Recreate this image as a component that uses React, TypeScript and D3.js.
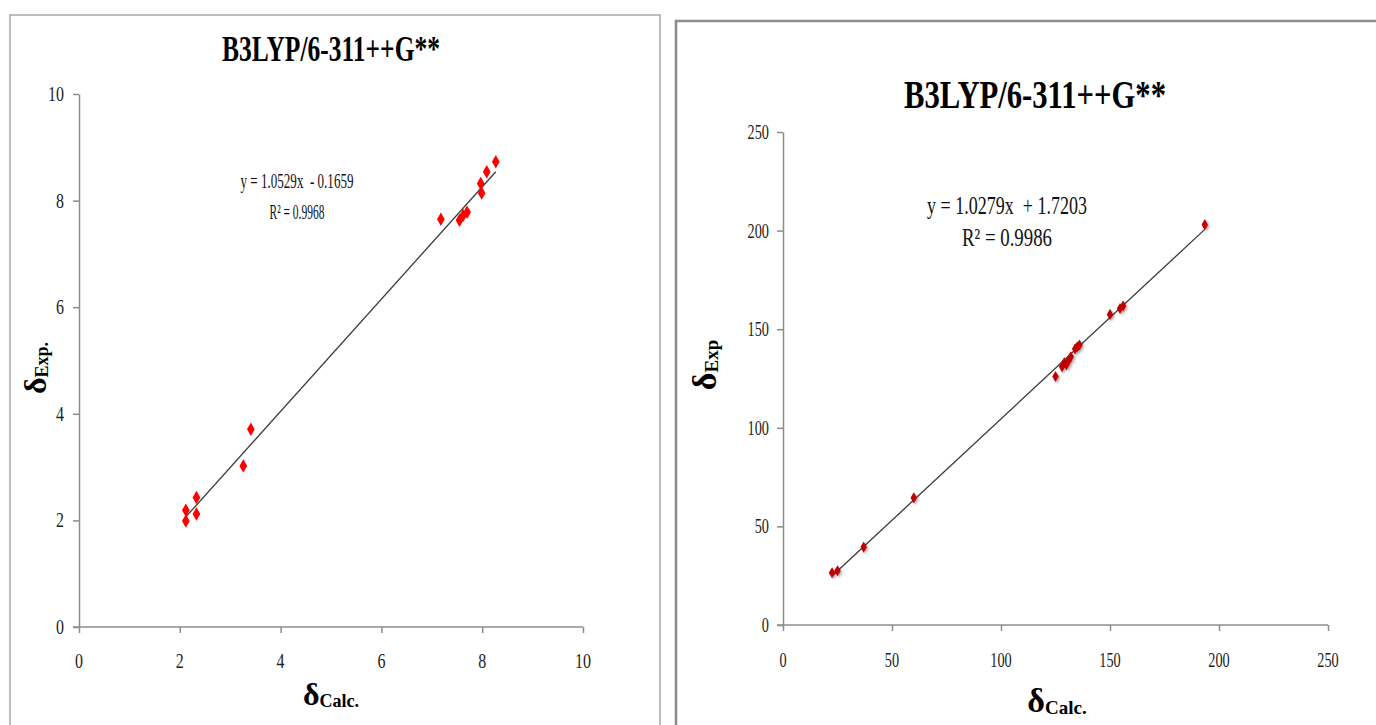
import React, { useEffect, useRef } from 'react';
import * as d3 from 'd3';

// left panel: 1H shifts
const calcH = [2.12, 2.12, 2.33, 2.33, 3.26, 3.41, 7.18, 7.55, 7.62, 7.7, 7.97, 7.99, 8.09, 8.27];
const expH = [2.19, 1.99, 2.43, 2.12, 3.02, 3.71, 7.65, 7.63, 7.72, 7.78, 8.32, 8.14, 8.54, 8.73];
const ticksH = [0, 2, 4, 6, 8, 10];
const fitH = { slope: 1.0529, intercept: -0.1659, eq: 'y = 1.0529x  - 0.1659', r2: 'R² = 0.9968' };

// right panel: 13C shifts
const calcC = [22.5, 25, 37, 60, 125, 128, 129, 130, 131, 132, 134, 135, 136, 150, 154.6, 156, 193.5];
const expC = [26.5, 27.5, 39.5, 64.5, 126, 131, 133, 132, 134, 136, 140, 141, 142, 157.5, 160.5, 161.8, 203];
const ticksC = [0, 50, 100, 150, 200, 250];
const fitC = { slope: 1.0279, intercept: 1.7203, eq: 'y = 1.0279x  + 1.7203', r2: 'R² = 0.9986' };

const title = 'B3LYP/6-311++G**';
const serif = '"Liberation Serif", "DejaVu Serif", serif';

const App = () => {
  const svgRef = useRef<SVGSVGElement>(null);

  useEffect(() => {
    const svg = d3.select(svgRef.current);
    svg.selectAll('*').remove();

    const defs = svg.append('defs');
    const f = defs.append('filter').attr('id', 'shadow').attr('x', '-50%').attr('y', '-50%').attr('width', '200%').attr('height', '200%');
    f.append('feDropShadow').attr('dx', 1.5).attr('dy', 1.5).attr('stdDeviation', 1.2).attr('flood-color', '#000').attr('flood-opacity', 0.35);

    // panel frames
    svg.append('rect')
      .attr('x', 10).attr('y', 15).attr('width', 650).attr('height', 730)
      .attr('fill', 'none').attr('stroke', '#a6a6a6').attr('stroke-width', 1.5);
    svg.append('path')
      .attr('d', 'M676,745V21H1376')
      .attr('fill', 'none').attr('stroke', '#8c8c8c').attr('stroke-width', 2.5);

    const drawPanel = (opt: any) => {
      const { xs, ys, ticks, fit, calc, exp } = opt;
      const g = svg.append('g');
      const [x0, x1] = xs.range();
      const [y0] = ys.range();

      // axes
      g.append('g')
        .attr('transform', `translate(0,${y0})`)
        .call(d3.axisBottom(xs).tickValues(ticks).tickSize(6).tickSizeOuter(0).tickFormat(() => ''))
        .call(a => a.select('.domain').attr('d', `M${x0 - 6},0H${x1}`))
        .call(a => a.selectAll('path,line').attr('stroke', '#8c8c8c').attr('stroke-width', 1.5));
      g.append('g')
        .attr('transform', `translate(${x0},0)`)
        .call(d3.axisLeft(ys).tickValues(ticks).tickSize(6).tickSizeOuter(0).tickFormat(() => ''))
        .call(a => a.selectAll('path,line').attr('stroke', '#8c8c8c').attr('stroke-width', 1.5));

      // tick labels, narrow like the original
      const fs = opt.tickFont;
      const tl = (d: number) => String(d).length * fs * 0.5 * opt.squeeze;
      g.selectAll('.xl').data(ticks).join('text')
        .attr('x', (d: number) => xs(d) - tl(d) / 2).attr('y', y0 + opt.xLabelDy)
        .attr('font-family', serif).attr('font-size', fs)
        .attr('textLength', tl).attr('lengthAdjust', 'spacingAndGlyphs')
        .attr('fill', '#222').text((d: number) => d);
      g.selectAll('.yl').data(ticks).join('text')
        .attr('x', (d: number) => x0 - opt.yLabelDx - tl(d)).attr('y', (d: number) => ys(d) + fs * 0.33)
        .attr('font-family', serif).attr('font-size', fs)
        .attr('textLength', tl).attr('lengthAdjust', 'spacingAndGlyphs')
        .attr('fill', '#222').text((d: number) => d);

      // title
      g.append('text')
        .attr('x', opt.titleX - opt.titleLen / 2).attr('y', opt.titleY)
        .attr('font-family', serif).attr('font-weight', 'bold')
        .attr('font-size', opt.titleSize).attr('textLength', opt.titleLen).attr('lengthAdjust', 'spacingAndGlyphs')
        .text(title);

      // axis titles
      const xt = g.append('text')
        .attr('x', opt.xTitle[0]).attr('y', opt.xTitle[1])
        .attr('text-anchor', 'middle').attr('font-family', serif).attr('font-weight', 'bold');
      xt.append('tspan').attr('font-size', opt.deltaSize).text('δ');
      xt.append('tspan').attr('font-size', opt.subSize).attr('dy', 2).text('Calc.');

      const yt = g.append('text')
        .attr('transform', `translate(${opt.yTitle[0]},${opt.yTitle[1]}) rotate(-90)`)
        .attr('text-anchor', 'middle').attr('font-family', serif).attr('font-weight', 'bold');
      yt.append('tspan').attr('font-size', opt.deltaSize).text('δ');
      yt.append('tspan').attr('font-size', opt.subSize).attr('dy', 2).text(opt.expLabel);

      // trendline
      const xmin = d3.min(calc) as number;
      const xmax = d3.max(calc) as number;
      const line = d3.line<number>().x(d => xs(d)).y(d => ys(fit.slope * d + fit.intercept));
      g.append('path')
        .attr('d', line([xmin, xmax]))
        .attr('fill', 'none').attr('stroke', '#3a3a3a').attr('stroke-width', 1.3);

      // equation
      g.append('text')
        .attr('x', opt.eqX - opt.eqLen / 2).attr('y', opt.eqY)
        .attr('font-family', serif).attr('font-size', opt.eqSize)
        .attr('textLength', opt.eqLen).attr('lengthAdjust', 'spacingAndGlyphs')
        .style('white-space', 'pre').attr('fill', '#111').text(fit.eq);
      g.append('text')
        .attr('x', opt.eqX - opt.r2Len / 2).attr('y', opt.eqY + opt.eqGap)
        .attr('font-family', serif).attr('font-size', opt.eqSize)
        .attr('textLength', opt.r2Len).attr('lengthAdjust', 'spacingAndGlyphs')
        .attr('fill', '#111').text(fit.r2);

      // markers
      const sym = d3.symbol().type(d3.symbolDiamond).size(opt.markerSize);
      g.append('g')
        .attr('filter', opt.shadow ? 'url(#shadow)' : null)
        .selectAll('path').data(calc.map((c: number, i: number) => [c, exp[i]])).join('path')
        .attr('transform', (d: number[]) => `translate(${xs(d[0])},${ys(d[1])})`)
        .attr('d', sym() as string)
        .attr('fill', opt.markerColor);
    };

    drawPanel({
      xs: d3.scaleLinear([0, 10], [79, 583]),
      ys: d3.scaleLinear([0, 10], [627, 94]),
      ticks: ticksH, fit: fitH, calc: calcH, exp: expH,
      tickFont: 21, squeeze: 0.76, xLabelDy: 41, yLabelDx: 15,
      titleX: 331, titleY: 61, titleSize: 36, titleLen: 218,
      xTitle: [331, 705], yTitle: [46, 368], deltaSize: 32, subSize: 18, expLabel: 'Exp.',
      eqX: 297, eqY: 188, eqSize: 22, eqGap: 31, eqLen: 113, r2Len: 55,
      markerSize: 52, markerColor: '#ff0000', shadow: false,
    });

    drawPanel({
      xs: d3.scaleLinear([0, 250], [783, 1328]),
      ys: d3.scaleLinear([0, 250], [625, 132]),
      ticks: ticksC, fit: fitC, calc: calcC, exp: expC,
      tickFont: 21, squeeze: 0.68, xLabelDy: 42, yLabelDx: 14,
      titleX: 1035, titleY: 108, titleSize: 40, titleLen: 262,
      xTitle: [1057, 712], yTitle: [716, 365], deltaSize: 34, subSize: 19, expLabel: 'Exp',
      eqX: 1007, eqY: 214, eqSize: 25, eqGap: 32, eqLen: 160, r2Len: 90,
      markerSize: 36, markerColor: '#c00000', shadow: true,
    });
  }, []);

  return (
    <svg ref={svgRef} width={1376} height={725} viewBox="0 0 1376 725"
      style={{ position: 'absolute', left: 0, top: 0, background: '#fff' }} />
  );
};

export default App;
